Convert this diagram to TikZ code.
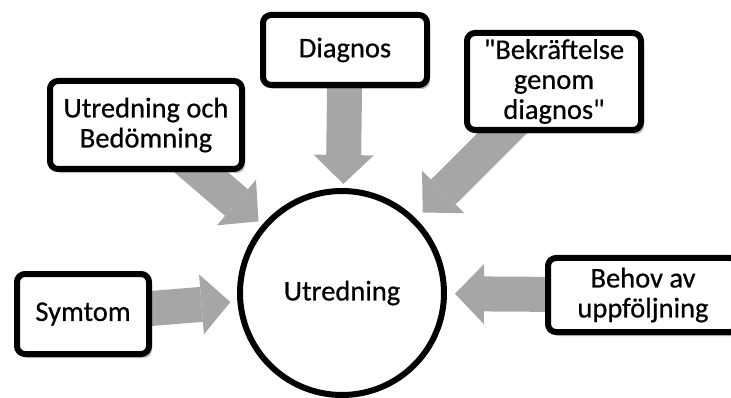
\documentclass[tikz,border=0pt]{standalone}
\usepackage{fontspec}
\setmainfont{Carlito}[FakeBold=0.6, Ligatures=TeXOff]
\usetikzlibrary{arrows.meta,shadows,backgrounds}
\definecolor{arrowgray}{RGB}{166,166,166}

\begin{document}
\begin{tikzpicture}[x=1pt, y=-1pt, thick,
    box/.style={draw, black, line width=6pt, rounded corners=8pt, fill=white, align=center, inner sep=0pt,
        font=\fontsize{28.5}{30}\selectfont,
        drop shadow={shadow xshift=3pt, shadow yshift=-4pt, opacity=0.25, fill=black}},
    bigarrow/.style={draw=arrowgray, line width=35pt, -{Triangle[length=29pt, width=60pt, line width=0pt]}}]

    \useasboundingbox (0,0) rectangle (731,398);
    \clip (0,0) rectangle (731,398);

    \node[box, minimum width=132pt, minimum height=80pt] at (83,314) (sym) {Symtom};
    \node[box, minimum width=192pt, minimum height=88pt] at (146,125) (bed) {Utredning och\\Bedömning};
    \node[box, minimum width=164pt, minimum height=70pt] at (345,50) (dia) {Diagnos};
    \node[box, minimum width=174pt, minimum height=97pt] at (554,81.5) (bek) {"Bekräftelse\\genom\\diagnos"};
    \node[box, minimum width=190pt, minimum height=74pt] at (643,295) (beh) {Behov av\\uppföljning};
    \node[draw, circle, line width=6pt, minimum size=204pt, fill=white, inner sep=0pt,
        font=\fontsize{28.5}{30}\selectfont] at (342,293) (utr) {Utredning};

    % arrows behind the boxes
    \begin{scope}[on background layer]
        \draw[bigarrow, shorten >=7pt] (sym.center) -- (utr);
        \draw[bigarrow, shorten >=5pt] (bed.center) -- (utr);
        \draw[bigarrow, shorten >=4pt] (dia.center) -- (utr);
        \draw[bigarrow, shorten >=9pt] (bek.center) -- (utr);
        \draw[bigarrow, shorten >=8pt] (beh.center) -- (utr);
    \end{scope}

\end{tikzpicture}
\end{document}
